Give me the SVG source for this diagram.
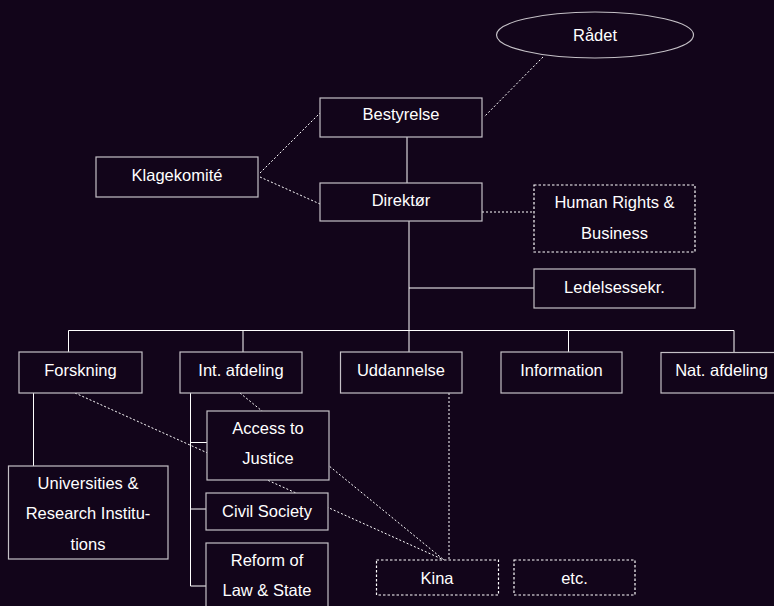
<svg xmlns="http://www.w3.org/2000/svg" width="774" height="606" viewBox="0 0 774 606">
<style>
.bg{fill:#12051a}
.box{fill:#12051a;stroke:#c4c0c6;stroke-width:1.2}
.dbox{fill:#12051a;stroke:#ffffff;stroke-width:1.2;stroke-dasharray:2.5 2}
.ln{stroke:#ffffff;stroke-width:1;fill:none}
.dl{stroke:#ffffff;stroke-width:1;fill:none;stroke-dasharray:2 2}
text{font-family:"Liberation Sans",Arial,sans-serif;font-size:16.5px;fill:#ffffff;text-anchor:middle}
</style>
<rect class="bg" x="0" y="0" width="774" height="606"/>
<g id="connectors">
<line class="dl" x1="543" y1="57" x2="484" y2="117"/>
<line class="dl" x1="260" y1="173" x2="320" y2="113"/>
<line class="dl" x1="260" y1="177" x2="320" y2="204"/>
<line class="dl" x1="482" y1="212" x2="534" y2="212"/>
<line class="ln" x1="407" y1="137" x2="407" y2="183"/>
<line class="ln" x1="409" y1="221" x2="409" y2="352"/>
<line class="ln" x1="409" y1="288" x2="534" y2="288"/>
<polyline class="ln" points="68.5,352 68.5,330.5 734,330.5 734,352"/>
<line class="ln" x1="243" y1="330.5" x2="243" y2="352"/>
<line class="ln" x1="568.5" y1="330.5" x2="568.5" y2="352"/>
<line class="ln" x1="33.5" y1="393" x2="33.5" y2="466"/>
<polyline class="ln" points="190.5,393 190.5,586 206,586"/>
<line class="ln" x1="190.5" y1="442.5" x2="207" y2="442.5"/>
<line class="ln" x1="190.5" y1="509" x2="206" y2="509"/>
<line class="dl" x1="75" y1="393" x2="444" y2="560"/>
<line class="dl" x1="240" y1="393" x2="444" y2="560"/>
<line class="dl" x1="449" y1="393" x2="449" y2="560"/>
</g>
<g id="radet"><ellipse cx="595" cy="35" rx="98.5" ry="23" fill="#12051a" stroke="#c4c0c6" stroke-width="1.2"/><text x="595" y="41">Rådet</text></g>
<g id="bestyrelse"><rect class="box" x="320" y="98" width="162" height="39"/><text x="401" y="120">Bestyrelse</text></g>
<g id="klagekomite"><rect class="box" x="96" y="157" width="162" height="40"/><text x="177" y="181">Klagekomité</text></g>
<g id="direktor"><rect class="box" x="320" y="183" width="162" height="38"/><text x="401" y="206">Direktør</text></g>
<g id="hrb"><rect class="dbox" x="534" y="185" width="161" height="67"/><text x="614.5" y="208">Human Rights &amp;</text><text x="614.5" y="239">Business</text></g>
<g id="ledelse"><rect class="box" x="534" y="269" width="161" height="39"/><text x="614.5" y="293">Ledelsessekr.</text></g>
<g id="forskning"><rect class="box" x="19" y="352" width="123" height="41"/><text x="80.5" y="376">Forskning</text></g>
<g id="intafd"><rect class="box" x="180" y="352" width="122" height="41"/><text x="241" y="376">Int. afdeling</text></g>
<g id="uddannelse"><rect class="box" x="340.5" y="352" width="121.5" height="41"/><text x="401" y="376">Uddannelse</text></g>
<g id="information"><rect class="box" x="501" y="352" width="121" height="41"/><text x="561.5" y="376">Information</text></g>
<g id="natafd"><rect class="box" x="661" y="352.5" width="124" height="40.5"/><text x="721.5" y="376">Nat. afdeling</text></g>
<g id="universities"><rect class="box" x="8.5" y="466" width="159.5" height="93"/><text x="88" y="489">Universities &amp;</text><text x="88" y="519">Research Institu-</text><text x="88" y="550">tions</text></g>
<g id="access"><rect class="box" x="207" y="411" width="122" height="69"/><text x="268" y="434">Access to</text><text x="268" y="464">Justice</text></g>
<g id="civil"><rect class="box" x="206" y="493" width="122" height="37"/><text x="267" y="517">Civil Society</text></g>
<g id="reform"><rect class="box" x="206" y="543" width="122" height="70"/><text x="267" y="566">Reform of</text><text x="267" y="596">Law &amp; State</text></g>
<g id="kina"><rect class="dbox" x="376.5" y="560" width="122" height="35"/><text x="437" y="584">Kina</text></g>
<g id="etc"><rect class="dbox" x="514" y="560" width="121" height="35"/><text x="574.5" y="584">etc.</text></g>
</svg>
